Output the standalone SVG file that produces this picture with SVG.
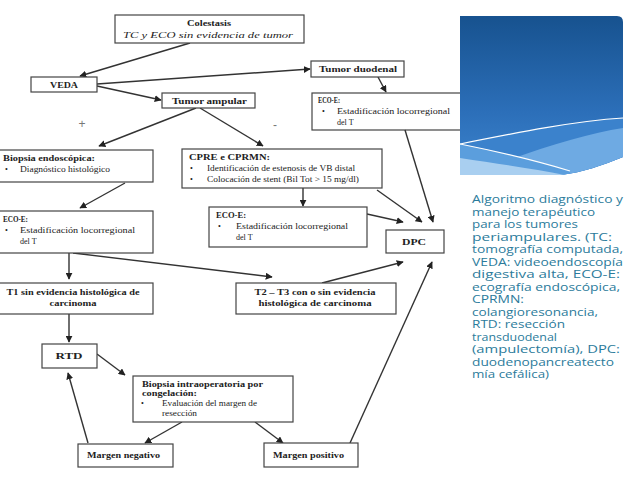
<svg xmlns="http://www.w3.org/2000/svg" width="638" height="479" viewBox="0 0 638 479">
<style>
.box{fill:#fff;stroke:#444;stroke-width:1.2}
.t{font-family:"Liberation Serif",serif;font-size:8px;fill:#222}
.b{font-weight:bold}
.i{font-style:italic}
.c{text-anchor:middle}
.cn line{stroke:#333;stroke-width:1.4;marker-end:url(#ah)}
.cap{font-family:"Open Sans",Lato,sans-serif;font-size:11.2px;fill:#2b7b9b}
</style>
<defs>
<marker id="ah" viewBox="0 0 10 10" refX="9" refY="5" markerWidth="5" markerHeight="5" orient="auto" markerUnits="strokeWidth">
<path d="M0,0 L10,5 L0,10 Z" fill="#222"/>
</marker>
<linearGradient id="bg" x1="0" y1="0" x2="0" y2="1">
<stop offset="0" stop-color="#17528f"/>
<stop offset="0.6" stop-color="#2c6fb9"/>
<stop offset="1" stop-color="#3d85cf"/>
</linearGradient>
<clipPath id="pc"><path d="M460,16 H617 Q623,16 623,22 V157 C600,166 585,172 560,175 L460,175 Z"/></clipPath>
</defs>
<rect width="638" height="479" fill="#fff"/>

<g id="n-eco-r"><rect class="box" x="312" y="93" width="160" height="37"/>
<text class="t b" x="318" y="103" textLength="22" lengthAdjust="spacingAndGlyphs">ECO-E:</text>
<text class="t" x="322" y="114">•</text>
<text class="t" x="337" y="114" textLength="113" lengthAdjust="spacingAndGlyphs">Estadificación locorregional</text>
<text class="t" x="337" y="125">del T</text></g>

<g id="panel" clip-path="url(#pc)">
<rect x="460" y="16" width="163" height="160" fill="url(#bg)"/>
<path d="M460,144 C520,132 575,121 623,118 V176 H460 Z" fill="#3b82cc"/>
<path d="M500,163 C550,145 590,133 623,128 V176 H500 Z" fill="#6eaae3"/>
<path d="M460,144 C500,152 540,162 570,171 L570,176 H460 Z" fill="#5b9edd"/>
<path d="M460,158 C500,164 540,170 570,176 H460 Z" fill="#a9cff0"/>
<path d="M460,144 C520,132 575,121 623,118" fill="none" stroke="#fff" stroke-width="1.2"/>
<path d="M460,144 C500,152 540,162 570,171" fill="none" stroke="#fff" stroke-width="1.2"/>
</g>

<g class="cn" id="connectors">
<line x1="190" y1="43" x2="80" y2="76"/>
<line x1="97" y1="84" x2="310" y2="69"/>
<line x1="97" y1="86" x2="161" y2="100"/>
<line x1="196" y1="108" x2="99" y2="146"/>
<line x1="200" y1="108" x2="263" y2="146"/>
<line x1="378" y1="77" x2="386" y2="92"/>
<line x1="405" y1="130" x2="433" y2="222"/>
<line x1="377" y1="190" x2="422" y2="222"/>
<line x1="303" y1="188" x2="303" y2="206"/>
<line x1="367" y1="214" x2="403" y2="222"/>
<line x1="125" y1="183" x2="80" y2="208"/>
<line x1="69" y1="253" x2="69" y2="279"/>
<line x1="73" y1="253" x2="272" y2="277"/>
<line x1="322" y1="283" x2="403" y2="262"/>
<line x1="350" y1="443" x2="432" y2="262"/>
<line x1="69" y1="314" x2="69" y2="342"/>
<line x1="97" y1="354" x2="125" y2="375"/>
<line x1="182" y1="422" x2="145" y2="443"/>
<line x1="88" y1="443" x2="68" y2="373"/>
<line x1="255" y1="422" x2="283" y2="443"/>
</g>

<g id="n-colestasis"><rect class="box" x="115" y="15" width="189" height="28"/>
<text class="t b c" x="209" y="26" textLength="44" lengthAdjust="spacingAndGlyphs">Colestasis</text>
<text class="t i" x="123" y="38" font-size="9" textLength="170" lengthAdjust="spacingAndGlyphs">TC y ECO sin evidencia de tumor</text></g>

<g id="n-veda"><rect class="box" x="31" y="77" width="66" height="15"/>
<text class="t b c" x="64" y="88" textLength="28" lengthAdjust="spacingAndGlyphs">VEDA</text></g>

<g id="n-ampular"><rect class="box" x="162" y="93" width="93" height="15"/>
<text class="t b" x="172" y="104" textLength="75" lengthAdjust="spacingAndGlyphs">Tumor ampular</text></g>

<g id="n-duodenal"><rect class="box" x="311" y="61" width="93" height="16"/>
<text class="t b" x="319" y="72" textLength="78" lengthAdjust="spacingAndGlyphs">Tumor duodenal</text></g>

<g id="labels"><text x="82" y="128" font-family="Liberation Sans,sans-serif" font-size="12" fill="#777" text-anchor="middle">+</text>
<text x="275" y="129" font-family="Liberation Sans,sans-serif" font-size="12" fill="#777" text-anchor="middle">-</text></g>

<g id="n-biopsia"><rect class="box" x="-2" y="150" width="155" height="32"/>
<text class="t b" x="3" y="161" textLength="92" lengthAdjust="spacingAndGlyphs">Biopsia endoscópica:</text>
<text class="t" x="5" y="172">•</text>
<text class="t" x="20" y="172" textLength="90" lengthAdjust="spacingAndGlyphs">Diagnóstico histológico</text></g>

<g id="n-cpre"><rect class="box" x="182" y="149" width="200" height="39"/>
<text class="t b" x="189" y="160" textLength="81" lengthAdjust="spacingAndGlyphs">CPRE e CPRMN:</text>
<text class="t" x="190" y="171">•</text>
<text class="t" x="207" y="171" textLength="148" lengthAdjust="spacingAndGlyphs">Identificación de estenosis de VB distal</text>
<text class="t" x="190" y="182">•</text>
<text class="t" x="207" y="182" textLength="152" lengthAdjust="spacingAndGlyphs">Colocación de stent (Bil Tot &gt; 15 mg/dl)</text></g>

<g id="n-eco-m"><rect class="box" x="209" y="207" width="158" height="40"/>
<text class="t b" x="216" y="218" textLength="30" lengthAdjust="spacingAndGlyphs">ECO-E:</text>
<text class="t" x="218" y="229">•</text>
<text class="t" x="236" y="229" textLength="112" lengthAdjust="spacingAndGlyphs">Estadificación locorregional</text>
<text class="t" x="236" y="240">del T</text></g>

<g id="n-dpc"><rect class="box" x="386" y="230" width="58" height="23"/>
<text class="t b c" x="414" y="245" textLength="24" lengthAdjust="spacingAndGlyphs">DPC</text></g>

<g id="n-eco-l"><rect class="box" x="-2" y="211" width="155" height="42"/>
<text class="t b" x="3" y="222" textLength="25" lengthAdjust="spacingAndGlyphs">ECO-E:</text>
<text class="t" x="5" y="233">•</text>
<text class="t" x="20" y="233" textLength="115" lengthAdjust="spacingAndGlyphs">Estadificación locorregional</text>
<text class="t" x="20" y="244">del T</text></g>

<g id="n-t1"><rect class="box" x="-2" y="283" width="155" height="31"/>
<text class="t b c" x="73" y="295" textLength="133" lengthAdjust="spacingAndGlyphs">T1 sin evidencia histológica de</text>
<text class="t b c" x="73" y="306" textLength="47" lengthAdjust="spacingAndGlyphs">carcinoma</text></g>

<g id="n-t2"><rect class="box" x="236" y="283" width="160" height="31"/>
<text class="t b c" x="315" y="295" textLength="121" lengthAdjust="spacingAndGlyphs">T2 – T3 con o sin evidencia</text>
<text class="t b c" x="315" y="306" textLength="113" lengthAdjust="spacingAndGlyphs">histológica de carcinoma</text></g>

<g id="n-rtd"><rect class="box" x="42" y="344" width="55" height="24"/>
<text class="t b c" x="69" y="359" textLength="27" lengthAdjust="spacingAndGlyphs">RTD</text></g>

<g id="n-intraop"><rect class="box" x="133" y="376" width="160" height="46"/>
<text class="t b" x="142" y="387" textLength="121" lengthAdjust="spacingAndGlyphs">Biopsia intraoperatoria por</text>
<text class="t b" x="142" y="396" textLength="55" lengthAdjust="spacingAndGlyphs">congelación:</text>
<text class="t" x="141" y="406">•</text>
<text class="t" x="162" y="406" textLength="95" lengthAdjust="spacingAndGlyphs">Evaluación del margen de</text>
<text class="t" x="162" y="416" textLength="35" lengthAdjust="spacingAndGlyphs">resección</text></g>

<g id="n-mneg"><rect class="box" x="78" y="444" width="95" height="23"/>
<text class="t b" x="87" y="458" textLength="73" lengthAdjust="spacingAndGlyphs">Margen negativo</text></g>

<g id="n-mpos"><rect class="box" x="264" y="443" width="94" height="24"/>
<text class="t b" x="273" y="458" textLength="71" lengthAdjust="spacingAndGlyphs">Margen positivo</text></g>

<g id="caption">
<text class="cap" x="472" y="203" textLength="151" lengthAdjust="spacingAndGlyphs">Algoritmo diagnóstico y</text>
<text class="cap" x="472" y="215.5" textLength="123" lengthAdjust="spacingAndGlyphs">manejo terapéutico</text>
<text class="cap" x="472" y="228" textLength="106" lengthAdjust="spacingAndGlyphs">para los tumores</text>
<text class="cap" x="472" y="240.5" textLength="140" lengthAdjust="spacingAndGlyphs">periampulares. (TC:</text>
<text class="cap" x="472" y="253" textLength="151" lengthAdjust="spacingAndGlyphs">tomografía computada,</text>
<text class="cap" x="472" y="265.5" textLength="151" lengthAdjust="spacingAndGlyphs">VEDA: videoendoscopía</text>
<text class="cap" x="472" y="278" textLength="148" lengthAdjust="spacingAndGlyphs">digestiva alta, ECO-E:</text>
<text class="cap" x="472" y="290.5" textLength="148" lengthAdjust="spacingAndGlyphs">ecografía endoscópica,</text>
<text class="cap" x="472" y="303" textLength="52" lengthAdjust="spacingAndGlyphs">CPRMN:</text>
<text class="cap" x="472" y="315.5" textLength="126" lengthAdjust="spacingAndGlyphs">colangioresonancia,</text>
<text class="cap" x="472" y="328" textLength="93" lengthAdjust="spacingAndGlyphs">RTD: resección</text>
<text class="cap" x="472" y="340.5" textLength="85" lengthAdjust="spacingAndGlyphs">transduodenal</text>
<text class="cap" x="472" y="353" textLength="148" lengthAdjust="spacingAndGlyphs">(ampulectomía), DPC:</text>
<text class="cap" x="472" y="365.5" textLength="142" lengthAdjust="spacingAndGlyphs">duodenopancreatecto</text>
<text class="cap" x="472" y="378" textLength="77" lengthAdjust="spacingAndGlyphs">mía cefálica)</text>
</g>
</svg>
